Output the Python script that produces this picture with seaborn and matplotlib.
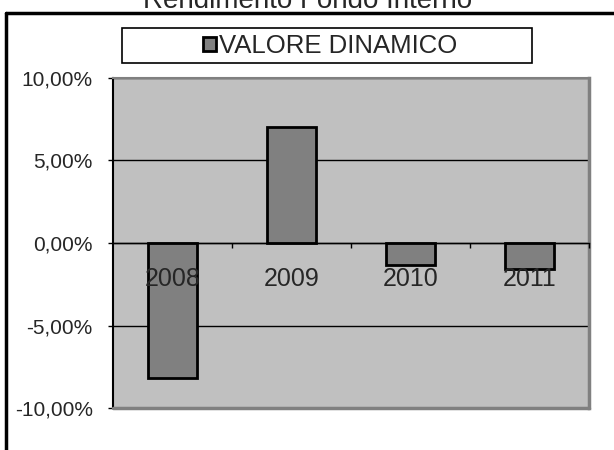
import matplotlib
matplotlib.use("Agg")
import matplotlib.pyplot as plt
import pandas as pd
import seaborn as sns
from matplotlib.lines import Line2D
from matplotlib.patches import Rectangle
from matplotlib.ticker import FuncFormatter

# Data (percent)
years = ["2008", "2009", "2010", "2011"]
rendimento = [-8.2, 7.0, -1.35, -1.6]
y_ticks = [-10, -5, 0, 5, 10]
serie = "VALORE DINAMICO"
titolo = "Rendimento Fondo Interno"

sns.set_style("white")
plt.rcParams["font.family"] = ["Liberation Sans", "DejaVu Sans"]

df = pd.DataFrame({"anno": years, "valore": rendimento})

fig = plt.figure(figsize=(6.14, 4.5), dpi=100)
W, H = 614, 450
ax = fig.add_axes([113 / W, 1 - 408 / H, 476 / W, 330 / H])

sns.barplot(data=df, x="anno", y="valore", color="#808080", saturation=1,
            width=0.41, edgecolor="black", linewidth=2, label=serie, ax=ax)
handles, labels = ax.get_legend_handles_labels()
if ax.get_legend() is not None:
    ax.get_legend().remove()

ax.set_facecolor("#C0C0C0")
ax.set_xlim(-0.5, 3.5)
ax.set_ylim(-10, 10)
ax.set_xlabel("")
ax.set_ylabel("")

# y axis
ax.set_yticks(y_ticks)
ax.yaxis.set_major_formatter(
    FuncFormatter(lambda v, p: f"{v:.2f}%".replace(".", ",")))
ax.tick_params(axis="y", direction="out", length=3.6, width=1, color="black",
               labelsize=15, pad=11, left=True)
ax.grid(axis="y", color="black", linewidth=1)
ax.set_axisbelow(True)

# x axis sits on the zero line, labels hang below it (drawn over the bars)
ax.spines["bottom"].set_position(("data", 0))
ax.spines["bottom"].set_color("black")
ax.spines["bottom"].set_linewidth(1)
ax.set_xticks([0.5, 1.5, 2.5, 3.5], minor=True)
ax.tick_params(axis="x", which="major", length=0, labelsize=18, pad=17)
ax.tick_params(axis="x", which="minor", direction="out", length=3.6,
               width=1, color="black", bottom=True)
ax.xaxis.set_zorder(5)

# plot area border
ax.spines["left"].set_color("black")
ax.spines["left"].set_linewidth(1.5)
ax.spines["top"].set_color("#808080")
ax.spines["top"].set_linewidth(1.5)
ax.spines["right"].set_color("#808080")
ax.spines["right"].set_linewidth(2.5)
ax.axhline(-10, color="#808080", linewidth=2.5, clip_on=False, zorder=3)

# legend box
fig.patches.append(Rectangle((122 / W, 1 - 63 / H), 410 / W, 35 / H,
                             transform=fig.transFigure, facecolor="white",
                             edgecolor="black", linewidth=1.2, zorder=1))
leg = fig.legend(handles, labels, loc="center",
                 bbox_to_anchor=(330 / W, 1 - 46 / H),
                 frameon=False, fontsize=18.5, handlelength=0.5,
                 handleheight=0.5, handletextpad=0.1, borderpad=0)
leg.set_zorder(2)

# title, cut off by the top edge as in the source
fig.text(308 / W, 1 - 8.5 / H, titolo, ha="center", va="baseline", fontsize=20)

# outer chart frame (only top and left visible)
fig.add_artist(Line2D([5.5 / W, 5.5 / W], [0, 1 - 12.5 / H],
                      transform=fig.transFigure, color="black", linewidth=2.5))
fig.add_artist(Line2D([5.5 / W, 1], [1 - 12.5 / H, 1 - 12.5 / H],
                      transform=fig.transFigure, color="black", linewidth=2.5))

fig.savefig("out.png", dpi=100)
